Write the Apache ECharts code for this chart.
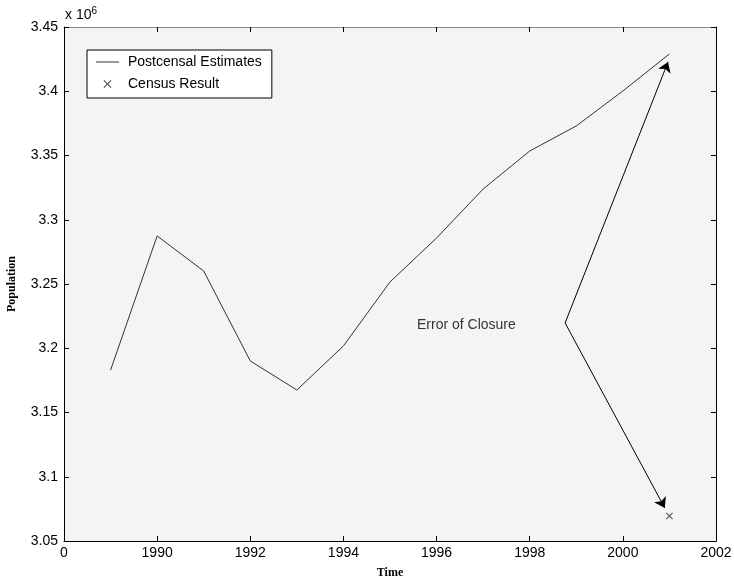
<!DOCTYPE html>
<html>
<head>
<meta charset="utf-8">
<script src="https://cdn.jsdelivr.net/npm/echarts@6/dist/echarts.min.js"></script>
<style>
html,body{margin:0;padding:0;background:#fff;}
#chart{width:734px;height:578px;}
</style>
</head>
<body>
<div id="chart"></div>
<script>
// ---- data ----
var years = [1989, 1990, 1991, 1992, 1993, 1994, 1995, 1996, 1997, 1998, 1999, 2000, 2001];
var postcensal = [3183000, 3287400, 3260100, 3190100, 3167500, 3201800, 3251600, 3285800, 3323900, 3353500, 3373000, 3400200, 3429000];
var censusYear = [2001];
var censusValue = [3069500];
var arrowStart = [1998.76, 3219700];
var arrowEnds = [[2000.97, 3422800], [2000.90, 3075700]];
var annotationText = 'Error of Closure';
var annotationPos = [1995.58, 3218100];
var xTickFirstLabel = '0';

var FONT = 'Liberation Sans, Arial, Helvetica, sans-serif';
var SERIF = 'Liberation Serif, Times New Roman, serif';

var chart = echarts.init(document.getElementById('chart'), null, {renderer: 'canvas'});
var xPath = 'path://M0,1 L1,0 L5,4 L9,0 L10,1 L6,5 L10,9 L9,10 L5,6 L1,10 L0,9 L4,5 Z';
var linePath = 'path://M0,0 L46,0 L46,2 L0,2 Z';

var option = {
  animation: false,
  backgroundColor: '#ffffff',
  grid: {left: 64, top: 27, width: 652, height: 514, show: true, backgroundColor: '#f4f4f4', borderWidth: 0,
    containLabel: false, outerBoundsMode: 'none'},
  graphic: [{
    type: 'text', left: 65, top: 6,
    style: {
      text: 'x 10{sup|6}',
      font: '14px ' + FONT, fill: '#000',
      rich: {sup: {fontSize: 10, fontFamily: FONT, verticalAlign: 'top', padding: [0,0,8,0]}}
    }
  }],
  legend: {
    orient: 'vertical', left: 87, top: 50,
    padding: [5, 10, 7, 9],
    itemWidth: 23, itemHeight: 8, itemGap: 8,
    borderColor: '#000', borderWidth: 1, borderRadius: 0,
    backgroundColor: '#ffffff',
    textStyle: {fontFamily: FONT, fontSize: 14, color: '#000', padding: [0,0,0,4]},
    data: [{name: 'Postcensal Estimates', icon: linePath}, {name: 'Census Result'}]
  },
  xAxis: [{
    type: 'value', min: 1988, max: 2002, interval: 2, position: 'bottom',
    name: 'Time', nameLocation: 'middle', nameGap: 26,
    nameTextStyle: {fontFamily: SERIF, fontWeight: 'bold', fontSize: 12, color: '#000'},
    axisLine: {show: true, onZero: false, lineStyle: {color: '#000', width: 1}},
    axisTick: {show: true, inside: true, length: 5, lineStyle: {color: '#000'}},
    axisLabel: {fontFamily: FONT, fontSize: 14, color: '#000', margin: 5,
      formatter: function (v) { return v === 1988 ? xTickFirstLabel : String(v); }},
    splitLine: {show: false}
  }, {
    type: 'value', min: 1988, max: 2002, interval: 2, position: 'top',
    axisLine: {show: true, onZero: false, lineStyle: {color: '#888', width: 1}},
    axisTick: {show: true, inside: true, length: 5, lineStyle: {color: '#000'}},
    axisLabel: {show: false}, splitLine: {show: false}
  }],
  yAxis: [{
    type: 'value', min: 3050000, max: 3450000, interval: 50000, position: 'left',
    name: 'Population', nameLocation: 'middle', nameGap: 46,
    nameTextStyle: {fontFamily: SERIF, fontWeight: 'bold', fontSize: 12, color: '#000'},
    axisLine: {show: true, onZero: false, lineStyle: {color: '#000', width: 1}},
    axisTick: {show: true, inside: true, length: 5, lineStyle: {color: '#000'}},
    axisLabel: {fontFamily: FONT, fontSize: 14, color: '#000', margin: 6,
      formatter: function (v) { return String(parseFloat((v / 1e6).toFixed(2))); }},
    splitLine: {show: false}
  }, {
    type: 'value', min: 3050000, max: 3450000, interval: 50000, position: 'right',
    axisLine: {show: true, onZero: false, lineStyle: {color: '#000', width: 1}},
    axisTick: {show: true, inside: true, length: 5, lineStyle: {color: '#000'}},
    axisLabel: {show: false}, splitLine: {show: false}
  }],
  series: [{
    name: 'Postcensal Estimates', type: 'line',
    data: years.map(function (y, i) { return [y, postcensal[i]]; }),
    symbol: 'none', showSymbol: false,
    lineStyle: {color: '#333', width: 1}, itemStyle: {color: '#333'}
  }, {
    name: 'Census Result', type: 'scatter',
    data: censusYear.map(function (y, i) { return [y, censusValue[i]]; }),
    symbol: xPath, symbolSize: 7,
    itemStyle: {color: '#222'}
  }, {
    name: 'arrows', type: 'lines', coordinateSystem: 'cartesian2d',
    symbol: ['none', 'arrow'], symbolSize: 10,
    lineStyle: {color: '#000', width: 1, opacity: 1},
    data: arrowEnds.map(function (e) { return {coords: [arrowStart, e]}; })
  }, {
    name: 'annotation', type: 'scatter', symbolSize: 0,
    data: [annotationPos],
    label: {show: true, position: 'right', distance: 0, formatter: annotationText,
      fontFamily: FONT, fontSize: 14, color: '#000'},
    silent: true
  }]
};
chart.setOption(option);
</script>
</body>
</html>
